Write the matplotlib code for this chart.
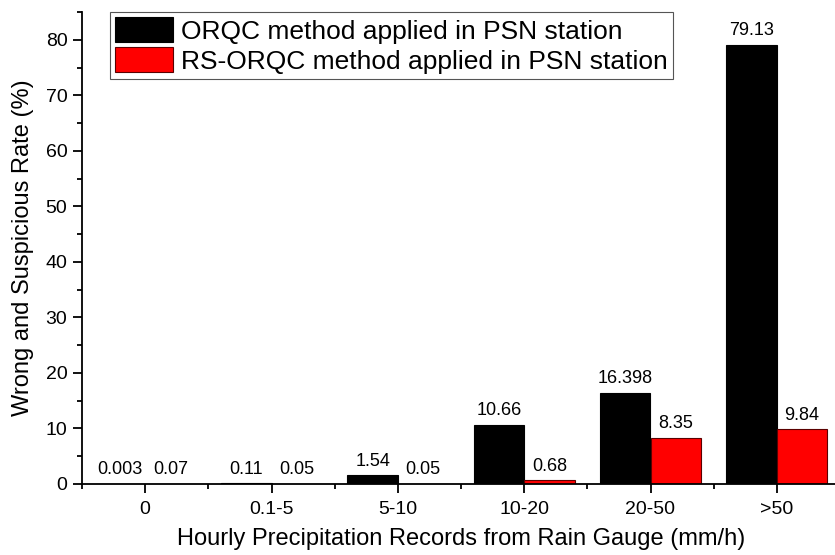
import matplotlib
matplotlib.use("Agg")
import matplotlib.pyplot as plt
import numpy as np
from matplotlib.ticker import MultipleLocator, FixedLocator

plt.rcParams["font.family"] = ["Liberation Sans", "DejaVu Sans"]

categories = ["0", "0.1-5", "5-10", "10-20", "20-50", ">50"]
orqc = [0.003, 0.11, 1.54, 10.66, 16.398, 79.13]
rs_orqc = [0.07, 0.05, 0.05, 0.68, 8.35, 9.84]
orqc_labels = ["0.003", "0.11", "1.54", "10.66", "16.398", "79.13"]
rs_labels = ["0.07", "0.05", "0.05", "0.68", "8.35", "9.84"]

fig = plt.figure(figsize=(8.35, 5.55), dpi=100)
ax = fig.add_axes([82 / 835, 1 - 484 / 555, (840 - 82) / 835, (484 - 12) / 555])

x = np.arange(len(categories))
w = 0.4

# black bar to the left of the tick, red to the right
b1 = ax.bar(x - w / 2, orqc, w, color="black", edgecolor="black", lw=0.8,
            label="ORQC method applied in PSN station")
b2 = ax.bar(x + w / 2, rs_orqc, w, color="#ff0000", edgecolor="#5a0000", lw=0.8,
            label="RS-ORQC method applied in PSN station")

ax.bar_label(b1, labels=orqc_labels, padding=4, fontsize=13)
ax.bar_label(b2, labels=rs_labels, padding=4, fontsize=13)

ax.set_xlim(-0.5, 5.5)
ax.set_ylim(0, 85)
ax.set_xticks(x)
ax.set_xticklabels(categories)
ax.xaxis.set_minor_locator(FixedLocator(np.arange(-0.5, 5.6, 1)))
ax.yaxis.set_major_locator(MultipleLocator(10))
ax.yaxis.set_minor_locator(MultipleLocator(5))

ax.spines["top"].set_visible(False)
ax.spines["right"].set_visible(False)
ax.spines["left"].set_linewidth(1.3)
ax.spines["bottom"].set_linewidth(1.3)

ax.tick_params(which="major", direction="out", length=6.5, width=1.3, labelsize=14)
ax.tick_params(which="minor", direction="out", length=3.5, width=1.3)
ax.tick_params(axis="x", which="major", pad=6)
ax.tick_params(axis="y", which="major", pad=4)

ax.set_xlabel("Hourly Precipitation Records from Rain Gauge (mm/h)", fontsize=17, labelpad=7)
ax.set_ylabel("Wrong and Suspicious Rate (%)", fontsize=17, labelpad=8)

leg = ax.legend(loc="upper left", bbox_to_anchor=(28 / 758, 1.0), fontsize=19,
                fancybox=False, edgecolor="#555555", framealpha=1,
                handlelength=2.2, handleheight=1.05, labelspacing=0.15,
                borderpad=0.2, handletextpad=0.3, borderaxespad=0.0)
leg.get_frame().set_linewidth(0.8)

fig.savefig("out.png", dpi=100)
